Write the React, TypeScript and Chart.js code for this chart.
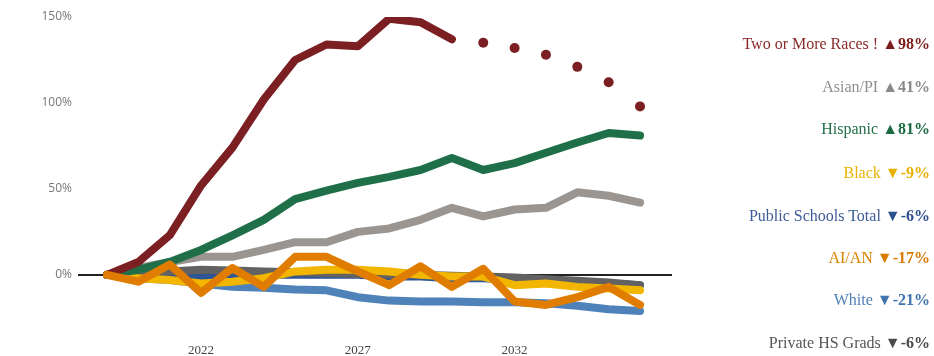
import React, { useEffect, useRef } from "react";
import { Chart, registerables } from "chart.js";

Chart.register(...registerables);

const years = [2019, 2020, 2021, 2022, 2023, 2024, 2025, 2026, 2027, 2028, 2029, 2030, 2031, 2032, 2033, 2034, 2035, 2036];
const xTickYears = [2022, 2027, 2032];
const yTickValues = [0, 50, 100, 150];

const twoOrMoreActual = [0, 7.5, 23, 52, 74, 102, 125, 134, 133, 149, 147, 137, null, null, null, null, null, null];
const twoOrMoreProjected = [null, null, null, null, null, null, null, null, null, null, null, null, 135, 132, 128, 121, 112, 98];
const hispanic = [0, 3, 7.5, 14.5, 23, 32, 44, 49, 53.5, 57, 61, 68, 61, 65, 71, 77, 82.5, 81];
const asianPI = [0, 4, 7.5, 10.5, 10.5, 14.5, 19, 19, 25, 27, 32, 39, 34, 38, 39, 48, 46, 42];
const black = [0, -2, -3, -5, -4, -2, 2, 3, 3, 2, 0, -1, -1, -6, -5, -7, -8, -9];
const publicTotal = [0, -1, -1, -1, -1, 0, 0, 0, 0, -1, -1, -2, -2, -3, -4, -4, -5, -6];
const aian = [0, -4, 6, -10.5, 4, -7, 10.5, 10.5, 2, -6, 5, -7, 3.5, -15.5, -17.5, -13, -7, -17.5];
const white = [0, -2, -3, -5, -7, -7.5, -8.5, -9, -13, -15, -15.5, -15.5, -16, -16, -16.5, -18, -20, -21];
const privateHS = [0, 1, 2, 3, 2.5, 2, 1.5, 1, 0.5, 0, 0, -0.5, -1, -1.5, -2.5, -3.5, -4.5, -6];

const legendItems = [
  { name: "Two or More Races !", value: "▲98%", color: "#8a2a2a", valueColor: "#7a1c1c" },
  { name: "Asian/PI", value: "▲41%", color: "#8f8f8f", valueColor: "#8a8a8a" },
  { name: "Hispanic", value: "▲81%", color: "#237048", valueColor: "#1c6a42" },
  { name: "Black", value: "▼-9%", color: "#e8b300", valueColor: "#e8b000" },
  { name: "Public Schools Total", value: "▼-6%", color: "#3d5c96", valueColor: "#2c4f8e" },
  { name: "AI/AN", value: "▼-17%", color: "#dd8200", valueColor: "#d97c00" },
  { name: "White", value: "▼-21%", color: "#4d80b8", valueColor: "#3f74ad" },
  { name: "Private HS Grads", value: "▼-6%", color: "#555555", valueColor: "#4a4a4a" },
];
const legendCenters = [44, 87, 129, 173, 216, 258, 300, 343];

function pts(arr: (number | null)[]) {
  return years.map((y, i) => ({ x: y, y: arr[i] }));
}

function lineDs(label: string, arr: (number | null)[], color: string, order: number) {
  return {
    label,
    data: pts(arr),
    borderColor: color,
    backgroundColor: color,
    borderWidth: 8,
    pointRadius: 0,
    borderCapStyle: "round" as const,
    borderJoinStyle: "round" as const,
    tension: 0,
    order,
    spanGaps: false,
  };
}

export default function App() {
  const ref = useRef<HTMLCanvasElement | null>(null);
  useEffect(() => {
    if (!ref.current) return;
    const chart = new Chart(ref.current, {
      type: "line",
      data: {
        datasets: [
          lineDs("AI/AN", aian, "#e07c00", 0),
          lineDs("Two or More Races", twoOrMoreActual, "#7b1f22", 1),
          {
            label: "Two or More Races (projected)",
            data: pts(twoOrMoreProjected),
            borderColor: "#7b1f22",
            backgroundColor: "#7b1f22",
            showLine: false,
            pointRadius: 5,
            pointBorderWidth: 0,
            order: 1,
          },
          lineDs("Hispanic", hispanic, "#1f7048", 2),
          lineDs("Asian/PI", asianPI, "#9a9590", 3),
          lineDs("Black", black, "#f2b600", 4),
          lineDs("Private HS Grads", privateHS, "#626262", 5),
          lineDs("Public Schools Total", publicTotal, "#2e5597", 6),
          lineDs("White", white, "#4f82b8", 7),
        ] as any,
      },
      options: {
        animation: false,
        responsive: false,
        layout: { padding: { left: 0, right: 262, top: 17, bottom: 0 } },
        plugins: { legend: { display: false }, tooltip: { enabled: false } },
        scales: {
          x: {
            type: "linear",
            min: 2018.075,
            max: 2037.02,
            grid: { display: false, drawTicks: false },
            border: { display: false },
            afterBuildTicks: (s: any) => {
              s.ticks = xTickYears.map((v) => ({ value: v }));
            },
            afterFit: (s: any) => {
              s.height = 21;
            },
            ticks: {
              autoSkip: false,
              maxRotation: 0,
              padding: 8,
              color: "#444",
              font: { family: "'Liberation Serif', serif", size: 13 },
              callback: (v: any) => String(v),
            },
          },
          y: {
            type: "linear",
            min: -35,
            max: 150,
            border: { display: false },
            afterBuildTicks: (s: any) => {
              s.ticks = yTickValues.map((v) => ({ value: v }));
            },
            afterFit: (s: any) => {
              s.width = 78;
            },
            grid: {
              drawTicks: false,
              lineWidth: 2,
              color: (c: any) => (c.tick && c.tick.value === 0 ? "#222" : "rgba(0,0,0,0)"),
            },
            ticks: {
              padding: 6,
              color: "#777",
              font: { family: "'Open Sans', sans-serif", size: 12 },
              callback: (v: any) => v + "%",
            },
          },
        },
      },
    });
    return () => chart.destroy();
  }, []);

  return (
    <div style={{ position: "fixed", left: 0, top: 0, width: 934, height: 356, background: "#fff", overflow: "hidden" }}>
      <canvas ref={ref} width={934} height={356} style={{ position: "absolute", left: 0, top: 0 }} />
      {legendItems.map((it, i) => (
        <div
          key={it.name}
          style={{
            position: "absolute",
            right: 4,
            top: legendCenters[i] - 10,
            height: 20,
            lineHeight: "20px",
            whiteSpace: "nowrap",
            fontFamily: "'Liberation Serif', serif",
            fontSize: 16,
            textAlign: "right",
          }}
        >
          <span style={{ color: it.color }}>{it.name} </span>
          <span style={{ color: it.valueColor, fontWeight: "bold" }}>{it.value}</span>
        </div>
      ))}
    </div>
  );
}
